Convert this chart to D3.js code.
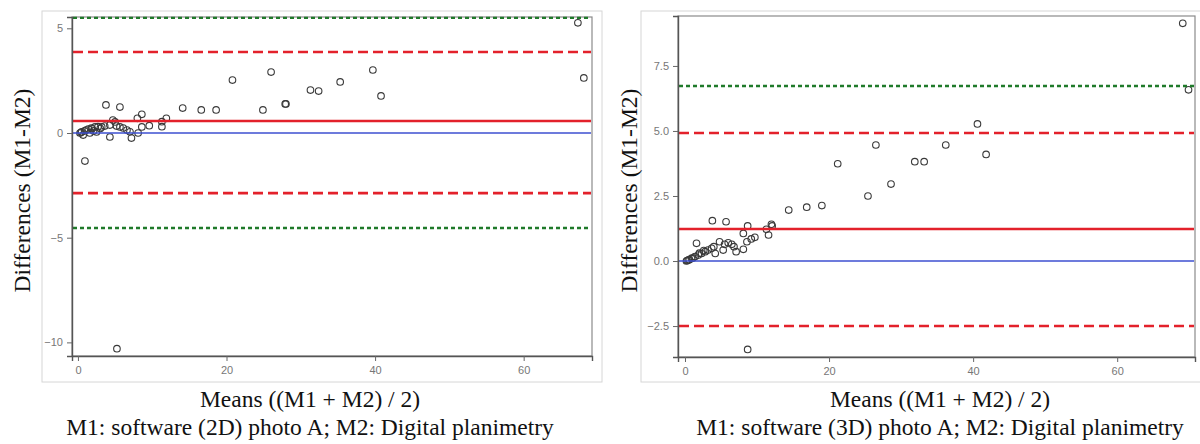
<!DOCTYPE html>
<html>
<head>
<meta charset="utf-8">
<script src="https://cdn.jsdelivr.net/npm/d3@7"></script>
<style>
  body { margin: 0; background: #fff; }
  .tick text { font-family: "Liberation Sans", Arial, sans-serif; font-size: 11px; fill: #777; }
  .tick line { stroke: #666; }
  .title { font-family: "Liberation Serif", "Times New Roman", serif; font-size: 23.5px; fill: #111; }
</style>
</head>
<body>
<svg id="chart" width="1200" height="444"></svg>
<script>
// DATA

// left panel: 2D software vs digital planimetry
const leftMeans = [0.27, 0.5, 0.7, 0.9, 1.4, 1.6, 1.8, 2.1, 2.3, 2.5, 2.7, 3.2, 3.6, 4.3, 4.3,
  5.0, 5.2, 5.65, 6.1, 6.6, 7.0, 7.2, 8.0, 8.1, 8.6, 8.6, 9.6, 11.3, 11.3, 11.9,
  3.77, 5.65, 0.94, 5.25, 14.1, 16.6, 18.6, 20.8, 24.9, 26.0, 27.9, 28.0,
  31.3, 32.4, 35.3, 39.7, 40.8, 67.3, 68.1, 0.4, 1.1, 1.9, 3.0, 4.7];
const leftDiffs = [0.0, 0.06, -0.1, 0.1, 0.19, 0.0, 0.24, 0.1, 0.29, 0.05, 0.3, 0.29, 0.33, 0.38, -0.19,
  0.53, 0.33, 0.29, 0.24, 0.14, 0.06, -0.24, 0.7, 0.0, 0.89, 0.29, 0.35, 0.54, 0.3, 0.7,
  1.34, 1.24, -1.34, -10.3, 1.19, 1.1, 1.1, 2.53, 1.1, 2.91, 1.39, 1.39,
  2.05, 2.0, 2.44, 3.01, 1.77, 5.26, 2.63, 0.02, 0.14, 0.2, 0.22, 0.62];
const leftLimits = { mean: 0.57, lower: -2.87, upper: 3.87, lower3: -4.54, upper3: 5.5 };

// right panel: 3D software vs digital planimetry
const rightMeans = [0.2, 0.3, 0.46, 0.6, 0.9, 1.1, 1.4, 1.6, 1.85, 2.3, 2.8, 3.2, 3.7, 4.2, 4.8,
  5.3, 5.5, 6.5, 6.8, 7.1, 8.1, 8.6, 9.2, 9.7, 11.3, 11.6, 12.0, 8.1, 3.8, 5.7,
  8.7, 12.1, 14.4, 16.9, 19.0, 21.2, 25.4, 26.5, 28.6, 31.9, 33.2, 36.2, 40.6, 41.8,
  69.1, 69.9, 8.7, 2.0, 2.6, 4.0, 6.0];
const rightDiffs = [0.0, 0.02, 0.04, 0.05, 0.1, 0.12, 0.17, 0.68, 0.23, 0.29, 0.36, 0.42, 0.49, 0.29, 0.74,
  0.42, 0.64, 0.64, 0.55, 0.36, 0.45, 0.74, 0.85, 0.91, 1.22, 1.0, 1.41, 1.06, 1.55, 1.51,
  1.35, 1.35, 1.96, 2.07, 2.13, 3.74, 2.5, 4.46, 2.96, 3.82, 3.82, 4.46, 5.27, 4.1,
  9.14, 6.58, -3.4, 0.3, 0.4, 0.55, 0.7];
const rightLimits = { mean: 1.23, lower: -2.5, upper: 4.92, lower3: -4.3, upper3: 6.73 };

const xTicks = [0, 20, 40, 60];
const leftYTicks = [-10, -5, 0, 5];
const rightYTicks = [-2.5, 0, 2.5, 5, 7.5];

const yLabel = "Differences (M1-M2)";
const xLabel = "Means ((M1 + M2) / 2)";
const leftCaption = "M1: software (2D) photo A; M2: Digital planimetry";
const rightCaption = "M1: software (3D) photo A; M2: Digital planimetry";

// DRAWING

const svg = d3.select("#chart");

function panel(opts) {
  const { frame, plot, xDomain, yDomain, means, diffs, limits, yTicks, yFormat, caption, labelX, titleX } = opts;

  // light outer frame
  svg.append("rect")
    .attr("x", frame.x).attr("y", frame.y)
    .attr("width", frame.w).attr("height", frame.h)
    .attr("fill", "none").attr("stroke", "#d6d6d6").attr("stroke-width", 1);

  const x = d3.scaleLinear().domain(xDomain).range([plot.left, plot.right]);
  const y = d3.scaleLinear().domain(yDomain).range([plot.bottom, plot.top]);

  // plot box
  svg.append("rect")
    .attr("x", plot.left).attr("y", plot.top)
    .attr("width", plot.right - plot.left).attr("height", plot.bottom - plot.top)
    .attr("fill", "none").attr("stroke", "#8a8a8a").attr("stroke-width", 1.2);

  // points
  svg.append("g")
    .selectAll("circle")
    .data(means.map((m, i) => [m, diffs[i]]))
    .enter()
    .append("circle")
    .attr("cx", d => x(d[0]))
    .attr("cy", d => y(d[1]))
    .attr("r", 3.3)
    .attr("fill", "none")
    .attr("stroke", "#3a3a3a")
    .attr("stroke-width", 1.1);

  // reference lines: zero, mean difference, limits of agreement, 3SD
  const lines = [
    { v: 0, color: "#3d4fd0", width: 1.6, dash: null },
    { v: limits.mean, color: "#e3212b", width: 2.6, dash: null },
    { v: limits.upper, color: "#e3212b", width: 2.6, dash: "10,5" },
    { v: limits.lower, color: "#e3212b", width: 2.6, dash: "10,5" },
    { v: limits.upper3, color: "#1f7a2a", width: 2.4, dash: "4,3" },
    { v: limits.lower3, color: "#1f7a2a", width: 2.4, dash: "4,3" }
  ].filter(l => l.v >= yDomain[0] && l.v <= yDomain[1]);

  svg.append("g")
    .selectAll("line")
    .data(lines)
    .enter()
    .append("line")
    .attr("x1", plot.left + 1).attr("x2", plot.right - 1)
    .attr("y1", d => y(d.v)).attr("y2", d => y(d.v))
    .attr("stroke", d => d.color)
    .attr("stroke-width", d => d.width)
    .attr("stroke-dasharray", d => d.dash);

  // axes
  const gx = svg.append("g")
    .attr("transform", `translate(0, ${plot.bottom})`)
    .call(d3.axisBottom(x).tickValues(xTicks).tickSize(5).tickPadding(5));
  const gy = svg.append("g")
    .attr("transform", `translate(${plot.left}, 0)`)
    .call(d3.axisLeft(y).tickValues(yTicks).tickSize(5).tickPadding(4).tickFormat(yFormat));
  [gx, gy].forEach(g => {
    g.select(".domain").attr("stroke", "#555").attr("stroke-width", 1.4);
  });

  // titles
  svg.append("text")
    .attr("class", "title")
    .attr("text-anchor", "middle")
    .attr("transform", `translate(${labelX}, ${(plot.top + plot.bottom) / 2 + 4}) rotate(-90)`)
    .text(yLabel);
  svg.append("text")
    .attr("class", "title")
    .attr("text-anchor", "middle")
    .attr("x", titleX).attr("y", 407)
    .text(xLabel);
  svg.append("text")
    .attr("class", "title")
    .attr("text-anchor", "middle")
    .attr("x", titleX).attr("y", 435)
    .text(caption);
}

panel({
  frame: { x: 42, y: 11, w: 560, h: 371 },
  plot: { left: 72, right: 592, top: 17, bottom: 356 },
  xDomain: [-0.8, 69.2],
  yDomain: [-10.65, 5.54],
  means: leftMeans, diffs: leftDiffs, limits: leftLimits,
  yTicks: leftYTicks, yFormat: d3.format("d"),
  caption: leftCaption, labelX: 30, titleX: 310
});

panel({
  frame: { x: 641, y: 11, w: 570, h: 371 },
  plot: { left: 678, right: 1195, top: 16, bottom: 357 },
  xDomain: [-0.97, 70.8],
  yDomain: [-3.69, 9.42],
  means: rightMeans, diffs: rightDiffs, limits: rightLimits,
  yTicks: rightYTicks, yFormat: d3.format(".1f"),
  caption: rightCaption, labelX: 637, titleX: 940
});
</script>
</body>
</html>
